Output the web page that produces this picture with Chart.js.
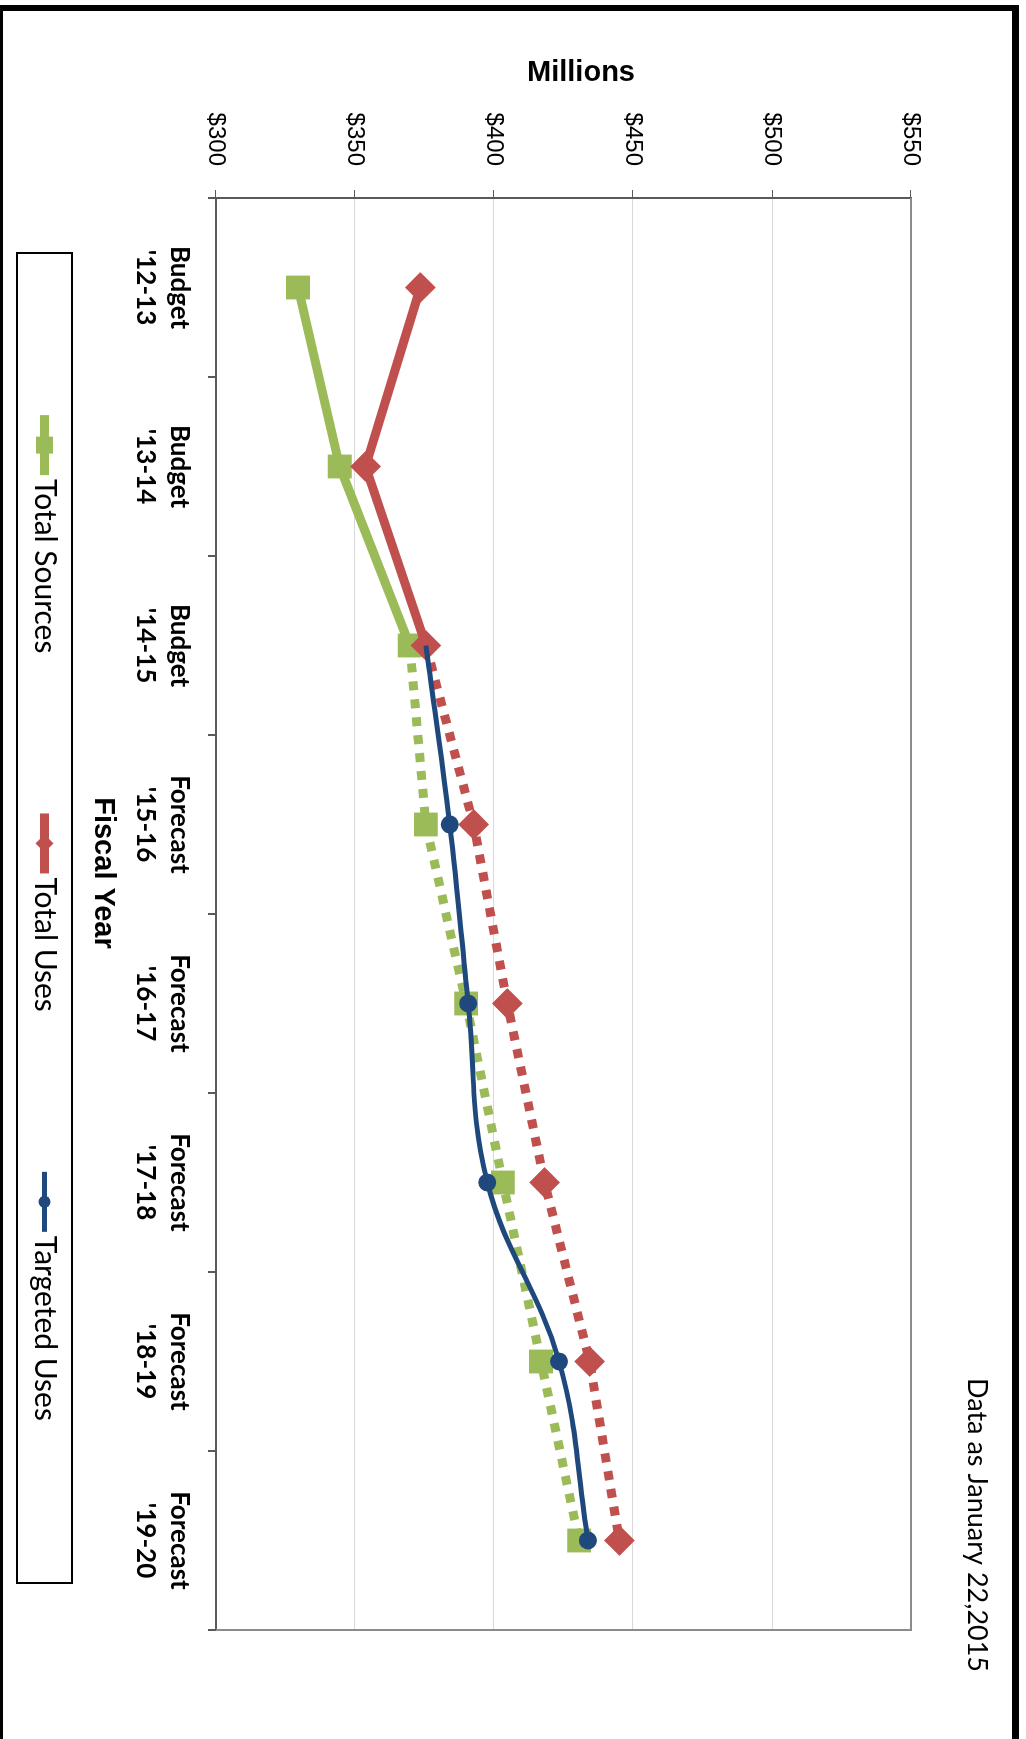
<!DOCTYPE html>
<html>
<head>
<meta charset="utf-8">
<title>Sources and Uses</title>
<script src="https://cdn.jsdelivr.net/npm/chart.js@4.4.1/dist/chart.umd.min.js"></script>
<style>
  html, body { margin: 0; padding: 0; background: #fff; }
  body { width: 1026px; height: 1739px; position: relative; overflow: hidden; }
  /* chart is laid out landscape, then turned a quarter clockwise onto the page */
  #wrap { position: absolute; left: 0; top: 0; width: 1739px; height: 1026px;
          transform-origin: 0 0; transform: translateX(1026px) rotate(90deg); }
  .rule { position: absolute; background: #000; }
</style>
</head>
<body>
<div id="wrap"><canvas id="chart" width="1739" height="1026"></canvas></div>
<div class="rule" style="left:0;top:5px;width:1019px;height:6px"></div>
<div class="rule" style="left:1012px;top:5px;width:7px;height:1734px"></div>
<div class="rule" style="left:0;top:5px;width:3px;height:1734px"></div>
<script>
const categories = [
  ['Budget', "'12-13"], ['Budget', "'13-14"], ['Budget', "'14-15"],
  ['Forecast', "'15-16"], ['Forecast', "'16-17"], ['Forecast', "'17-18"],
  ['Forecast', "'18-19"], ['Forecast', "'19-20"]
];
const totalSources = [329.5, 344.5, 369.7, 375.5, 390.0, 403.2, 416.9, 430.6];
const totalUses    = [373.5, 353.8, 375.5, 392.7, 404.8, 418.2, 434.4, 445.1];
const targetedUses = [null, null, 375.5, 384.1, 390.7, 397.6, 423.4, 433.8];
const valueTicks   = [300, 350, 400, 450, 500, 550];
const firstForecast = 2; // lines turn dotted after Budget '14-15

const green = '#9BBB59';
const red = '#C0504D';
const blue = '#1F497D';
const axisColor = '#595959';
const gridColor = '#d9d9d9';

const dotted = ctx => ctx.p0DataIndex >= firstForecast ? [9, 9] : [];

// gray edge on the top and right of the plot area
const plotFrame = {
  id: 'plotFrame',
  beforeDatasetsDraw(chart) {
    const { ctx, chartArea: a } = chart;
    ctx.save();
    ctx.strokeStyle = '#8c8c8c';
    ctx.lineWidth = 2;
    ctx.beginPath();
    ctx.moveTo(a.left, a.top);
    ctx.lineTo(a.right, a.top);
    ctx.lineTo(a.right, a.bottom);
    ctx.stroke();
    ctx.restore();
  }
};

// axis titles and the date note
const chartText = {
  id: 'chartText',
  afterDraw(chart) {
    const ctx = chart.ctx;
    ctx.save();
    ctx.fillStyle = '#000';
    ctx.textBaseline = 'alphabetic';
    ctx.font = 'bold 29px "Liberation Sans", Arial, sans-serif';
    ctx.textAlign = 'center';
    ctx.fillText('Fiscal Year', 873, 931);

    ctx.font = '27px Lato, sans-serif';
    ctx.textAlign = 'left';
    ctx.fillText('Data as January 22,2015', 1378, 58);

    ctx.translate(81, 445);
    ctx.rotate(-Math.PI / 2);
    ctx.font = 'bold 29px "Liberation Sans", Arial, sans-serif';
    ctx.textAlign = 'center';
    ctx.fillText('Millions', 0, 0);
    ctx.restore();
  }
};

function drawMarker(ctx, style, x, y, r, color) {
  ctx.fillStyle = color;
  ctx.beginPath();
  if (style === 'rect') {
    const s = r * Math.SQRT1_2;
    ctx.rect(x - s, y - s, 2 * s, 2 * s);
  } else if (style === 'rectRot') {
    ctx.moveTo(x - r, y);
    ctx.lineTo(x, y - r);
    ctx.lineTo(x + r, y);
    ctx.lineTo(x, y + r);
    ctx.closePath();
  } else {
    ctx.arc(x, y, r, 0, Math.PI * 2);
  }
  ctx.fill();
}

// boxed legend with line-and-marker swatches
const seriesKey = {
  id: 'seriesKey',
  afterDraw(chart) {
    const ctx = chart.ctx;
    const box = { left: 253, top: 954, width: 1330, height: 55 };
    const swatch = 60, gap = 160;
    ctx.save();
    ctx.strokeStyle = '#000';
    ctx.lineWidth = 2;
    ctx.strokeRect(box.left, box.top, box.width, box.height);

    ctx.font = '30px Lato, sans-serif';
    const items = chart.data.datasets.map(ds => ({ ds, w: swatch + 4 + ctx.measureText(ds.label).width }));
    const total = items.reduce((s, it) => s + it.w, 0) + gap * (items.length - 1);
    let x = box.left + (box.width - total) / 2;
    const cy = box.top + box.height / 2;
    items.forEach(({ ds, w }) => {
      ctx.strokeStyle = ds.borderColor;
      ctx.lineWidth = ds.borderWidth;
      ctx.beginPath();
      ctx.moveTo(x, cy);
      ctx.lineTo(x + swatch, cy);
      ctx.stroke();
      drawMarker(ctx, ds.pointStyle, x + swatch / 2, cy, ds.legendRadius, ds.borderColor);
      ctx.fillStyle = '#000';
      ctx.textBaseline = 'middle';
      ctx.textAlign = 'left';
      ctx.fillText(ds.label, x + swatch + 4, cy);
      x += w + gap;
    });
    ctx.restore();
  }
};

new Chart(document.getElementById('chart'), {
  type: 'line',
  data: {
    labels: categories,
    datasets: [
      {
        label: 'Total Sources', data: totalSources,
        borderColor: green, backgroundColor: green, borderWidth: 9,
        pointStyle: 'rect', pointRadius: 10.5, legendRadius: 12,
        order: 2, segment: { borderDash: dotted }
      },
      {
        label: 'Total Uses', data: totalUses,
        borderColor: red, backgroundColor: red, borderWidth: 9,
        pointStyle: 'rectRot', pointRadius: 9, legendRadius: 9,
        order: 1, segment: { borderDash: dotted }
      },
      {
        label: 'Targeted Uses', data: targetedUses,
        borderColor: blue, backgroundColor: blue, borderWidth: 5,
        pointStyle: 'circle', legendRadius: 6,
        pointRadius: ctx => ctx.dataIndex === firstForecast ? 0 : 6.5,
        tension: 0.4, order: 0
      }
    ]
  },
  options: {
    responsive: false,
    animation: false,
    layout: { padding: { left: 0, top: 115, right: 109, bottom: 0 } },
    elements: {
      line: { borderCapStyle: 'butt', borderJoinStyle: 'round' },
      point: { borderWidth: 0, hoverRadius: 7 }
    },
    plugins: { legend: { display: false }, tooltip: { enabled: false } },
    scales: {
      x: {
        offset: true,
        grid: { offset: true, drawOnChartArea: false, color: axisColor, tickLength: 8, lineWidth: 2 },
        border: { color: axisColor, width: 2 },
        ticks: {
          color: '#000', padding: 12, maxRotation: 0, minRotation: 0, autoSkip: false,
          font: { family: 'Lato', size: 26, weight: 'bold', lineHeight: 1.3 }
        },
        afterFit: s => { s.height = 216; }
      },
      y: {
        min: 300,
        max: 550,
        afterBuildTicks: s => { s.ticks = valueTicks.map(v => ({ value: v })); },
        grid: { color: gridColor, tickColor: axisColor, tickLength: 8, lineWidth: 1 },
        border: { color: axisColor, width: 2 },
        ticks: {
          color: '#000', padding: 24,
          font: { family: 'Liberation Sans', size: 24 },
          callback: v => '$' + v
        },
        afterFit: s => { s.width = 198; }
      }
    }
  },
  plugins: [plotFrame, chartText, seriesKey]
});
</script>
</body>
</html>
